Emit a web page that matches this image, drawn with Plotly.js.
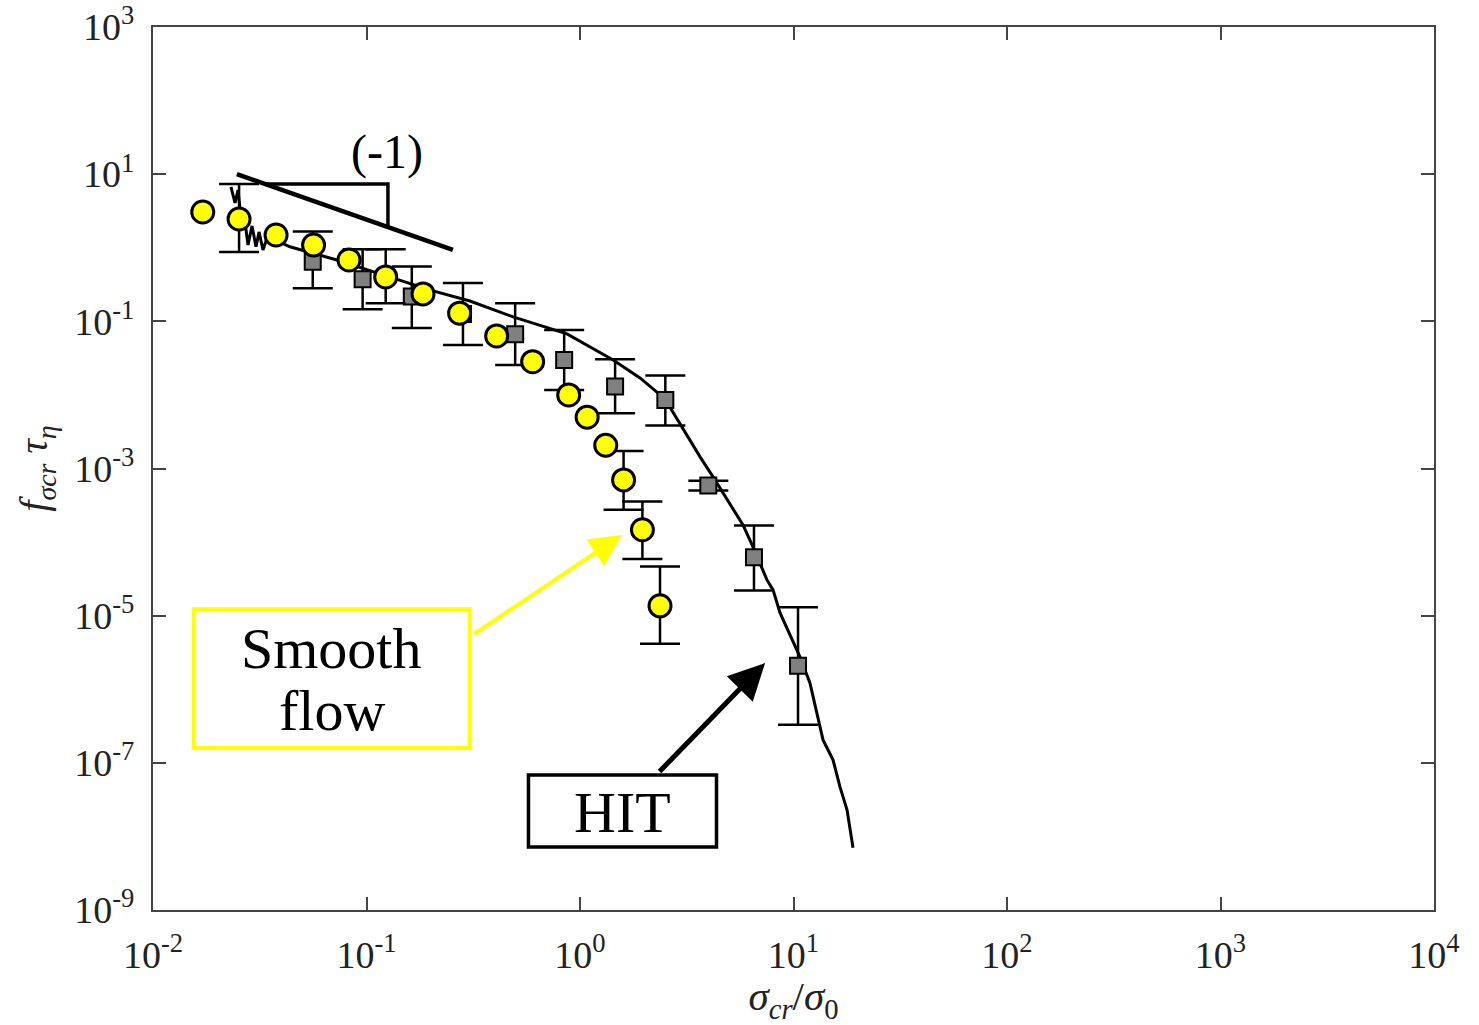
<!DOCTYPE html>
<html><head><meta charset="utf-8">
<script src="https://cdn.plot.ly/plotly-3.0.1.min.js"></script>
<style>html,body{margin:0;padding:0;background:#fff;} #chart{width:1479px;height:1025px;}</style>
</head><body><div id="chart"></div>
<script>
// ---- Smooth flow (yellow circles) ----
const smoothX = [0.0171,0.0253,0.0377,0.0565,0.0828,0.123,0.184,0.273,0.407,0.600,0.885,1.08,1.32,1.60,1.96,2.37];
const smoothY = [3.06,2.46,1.49,1.09,0.683,0.401,0.236,0.129,0.0633,0.0283,0.0100,0.00498,0.00207,0.00070,0.000147,1.36e-5];
const smoothHi = [null,7.36,null,null,null,0.954,null,null,null,null,null,null,null,0.001734,0.000355,4.65e-5];
const smoothLo = [null,0.877,null,null,null,0.176,null,null,null,null,null,null,null,0.000274,5.91e-5,4.14e-6];

// ---- HIT (gray squares) ----
const hitX = [0.056,0.0959,0.163,0.283,0.497,0.843,1.46,2.51,3.99,6.53,10.5];
const hitY = [0.647,0.373,0.217,0.126,0.0668,0.0299,0.0130,0.00855,0.000586,6.24e-5,2.08e-6];
const hitHi = [1.66,0.954,0.554,0.333,0.176,0.0764,0.0306,0.0183,0.000679,0.000168,1.30e-5];
const hitLo = [0.282,0.146,0.0813,0.0478,0.0256,0.0117,0.00564,0.00383,0.000501,2.19e-5,3.28e-7];

// ---- HIT PDF curve ----
const curveX = [0.02318,0.02422,0.02501,0.02556,0.02612,0.02697,0.02786,0.02909,0.03037,0.03137,0.03275,0.03420,0.03727,0.0438,0.0727,0.1195,0.205,0.305,0.486,0.869,1.43,1.91,2.50,3.65,4.20,5.80,6.46,7.51,8.02,8.65,10.38,10.72,11.94,12.88,13.75,15.31,16.51,17.81,19.0];
const curveY = [6.70,4.06,6.10,3.06,1.86,2.24,1.09,1.98,1.03,1.64,0.933,1.36,1.28,1.03,0.682,0.427,0.259,0.189,0.115,0.0675,0.0299,0.0170,0.00883,0.00144,0.000769,0.000171,8.61e-5,3.06e-5,2.24e-5,1.09e-5,3.43e-6,2.75e-6,1.22e-6,4.78e-7,2.05e-7,1.10e-7,4.72e-8,2.30e-8,7.0e-9];

// ---- slope (-1) guide ----
const slopeX = [0.0247, 0.254];
const slopeY = [10, 0.933];
const triX = [0.0331, 0.126, 0.126];
const triY = [7.36, 7.36, 1.92];

// ---- ticks ----
const xTickVals = [0.01,0.1,1,10,100,1000,10000];
const xTickText = ['10<sup>-2</sup>','10<sup>-1</sup>','10<sup>0</sup>','10<sup>1</sup>','10<sup>2</sup>','10<sup>3</sup>','10<sup>4</sup>'];
const yTickVals = [1e3,1e1,1e-1,1e-3,1e-5,1e-7,1e-9];
const yTickText = ['10<sup>3</sup>','10<sup>1</sup>','10<sup>-1</sup>','10<sup>-3</sup>','10<sup>-5</sup>','10<sup>-7</sup>','10<sup>-9</sup>'];

function errPlus(y, hi){ return y.map((v,i)=> hi[i]==null ? NaN : hi[i]-v); }
function errMinus(y, lo){ return y.map((v,i)=> lo[i]==null ? NaN : v-lo[i]); }

const FONT = 'Liberation Serif, Times New Roman, serif';

const traces = [
  {x: curveX, y: curveY, mode:'lines', line:{color:'#000', width:3}, hoverinfo:'skip'},
  {x: slopeX, y: slopeY, mode:'lines', line:{color:'#000', width:4.5}, hoverinfo:'skip'},
  {x: triX, y: triY, mode:'lines', line:{color:'#000', width:3.5}, hoverinfo:'skip'},
  {x: hitX, y: hitY, mode:'markers',
   marker:{symbol:'square', size:16, color:'#808080', line:{color:'#000', width:2}},
   error_y:{type:'data', symmetric:false, array: errPlus(hitY, hitHi), arrayminus: errMinus(hitY, hitLo), color:'#000', thickness:2.5, width:20}},
  {x: smoothX, y: smoothY, mode:'markers',
   marker:{symbol:'circle', size:22, color:'#FFFF00', line:{color:'#000', width:3}},
   error_y:{type:'data', symmetric:false, array: errPlus(smoothY, smoothHi), arrayminus: errMinus(smoothY, smoothLo), color:'#000', thickness:2.5, width:20}}
];

const layout = {
  width:1479, height:1025,
  margin:{l:153, r:45, t:27, b:115},
  paper_bgcolor:'#fff', plot_bgcolor:'#fff',
  showlegend:false,
  font:{family:FONT, color:'#000', size:38},
  xaxis:{type:'log', range:[-2,4], tickvals:xTickVals, ticktext:xTickText,
    showline:true, linecolor:'#444', linewidth:2, mirror:'ticks', ticks:'inside', ticklen:13, tickwidth:2, tickcolor:'#444',
    showgrid:false, zeroline:false, tickfont:{family:FONT, size:38, color:'#222'}, ticklabelstandoff:10,
    title:{text:'<i>σ<sub>cr</sub></i>/<i>σ</i><sub>0</sub>', font:{family:FONT, size:41, color:'#222'}, standoff:18}},
  yaxis:{type:'log', range:[-9,3], tickvals:yTickVals, ticktext:yTickText,
    showline:true, linecolor:'#444', linewidth:2, mirror:'ticks', ticks:'inside', ticklen:13, tickwidth:2, tickcolor:'#444',
    showgrid:false, zeroline:false, tickfont:{family:FONT, size:38, color:'#222'}, ticklabelstandoff:9,
    title:{text:'<i>f<sub>σcr</sub> τ<sub>η</sub></i>', font:{family:FONT, size:40, color:'#222'}, standoff:14}},
  shapes:[
    {type:'rect', xref:'paper', yref:'paper', x0:0.0318, x1:0.2472, y0:0.1835, y1:0.3405, line:{color:'#FFFF00', width:4}, fillcolor:'rgba(0,0,0,0)'},
    {type:'rect', xref:'paper', yref:'paper', x0:0.2931, x1:0.4399, y0:0.0713, y1:0.1529, line:{color:'#000', width:3.5}, fillcolor:'rgba(0,0,0,0)'}
  ],
  annotations:[
    {text:'(-1)', xref:'x', yref:'y', x:-0.905, y:1.302, showarrow:false, font:{family:FONT, size:48, color:'#000'}},
    {text:'Smooth', xref:'paper', yref:'paper', x:0.1395, y:0.2967, showarrow:false, xanchor:'center', yanchor:'middle', font:{family:FONT, size:58, color:'#000'}},
    {text:'flow', xref:'paper', yref:'paper', x:0.1395, y:0.2254, showarrow:false, xanchor:'center', yanchor:'middle', font:{family:FONT, size:58, color:'#000'}},
    {text:'HIT', xref:'paper', yref:'paper', x:0.3665, y:0.1099, showarrow:false, xanchor:'center', yanchor:'middle', font:{family:FONT, size:58, color:'#000'}},
    {text:'', xref:'paper', yref:'paper', x:0.3659, y:0.4247, ax:-149, ay:100, showarrow:true, arrowhead:2, arrowsize:1.6, arrowwidth:4, arrowcolor:'#FFFF00', standoff:0},
    {text:'', xref:'paper', yref:'paper', x:0.4778, y:0.2797, ax:-107, ay:110, showarrow:true, arrowhead:2, arrowsize:1.45, arrowwidth:5, arrowcolor:'#000', standoff:0}
  ]
};

Plotly.newPlot('chart', traces, layout, {displayModeBar:false, staticPlot:true});
</script>
</body></html>
